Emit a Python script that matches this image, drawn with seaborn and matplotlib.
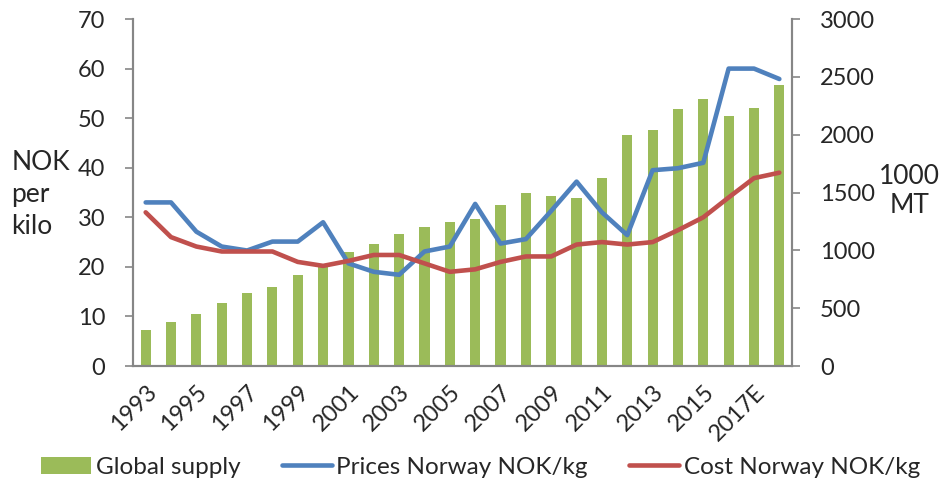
import numpy as np
import pandas as pd
import matplotlib
matplotlib.use("Agg")
import matplotlib.pyplot as plt
import seaborn as sns
from matplotlib.patches import Patch
from matplotlib.lines import Line2D

years = ["1993", "1994", "1995", "1996", "1997", "1998", "1999", "2000", "2001", "2002",
         "2003", "2004", "2005", "2006", "2007", "2008", "2009", "2010", "2011", "2012",
         "2013", "2014", "2015", "2016", "2017E", "2018E"]
global_supply = [311, 383, 449, 545, 628, 680, 786, 873, 983, 1054, 1141, 1201, 1247,
                 1270, 1394, 1492, 1472, 1452, 1628, 1994, 2040, 2224, 2308, 2161, 2233, 2429]
prices = [33.0, 33.0, 27.1, 24.1, 23.3, 25.1, 25.1, 29.0, 20.7, 19.0, 18.4, 23.1, 24.1,
          32.7, 24.7, 25.6, 31.3, 37.2, 31.0, 26.4, 39.5, 39.9, 41.0, 60.0, 60.0, 57.9]
cost = [31.0, 26.0, 24.1, 23.1, 23.1, 23.1, 21.0, 20.2, 21.2, 22.4, 22.4, 20.7, 19.0,
        19.5, 21.0, 22.1, 22.1, 24.5, 25.0, 24.5, 25.0, 27.4, 30.0, 34.0, 37.9, 39.0]
left_ticks = [0, 10, 20, 30, 40, 50, 60, 70]
right_ticks = [0, 500, 1000, 1500, 2000, 2500, 3000]

GREEN = "#9BBB59"
BLUE = "#4F81BD"
RED = "#C0504D"
GRAY = "#868686"

sns.set_style("white")
plt.rcParams["font.family"] = ["Lato", "DejaVu Sans"]

df = pd.DataFrame({"year": years, "supply": global_supply,
                   "prices": prices, "cost": cost, "idx": np.arange(len(years))})

fig = plt.figure(figsize=(9.5, 4.84), dpi=100)
ax = fig.add_axes([0.14, 0.2438, 0.8337 - 0.14, 0.9607 - 0.2438])
ax2 = ax.twinx()

sns.barplot(data=df, x="year", y="supply", color=GREEN, width=0.4, ax=ax,
            saturation=1, edgecolor="none")
ax.set_ylim(0, 3000)
ax.set_xlim(-0.5, len(years) - 0.5)
ax.set_ylabel("")
ax.set_xlabel("")

sns.lineplot(data=df, x="idx", y="prices", color=BLUE, lw=3.3, ax=ax2,
             solid_capstyle="round")
sns.lineplot(data=df, x="idx", y="cost", color=RED, lw=3.3, ax=ax2,
             solid_capstyle="round")
ax2.set_ylim(0, 70)
ax2.set_ylabel("")
ax2.set_xlabel("")
ax2.set_xlim(-0.5, len(years) - 0.5)

# swap sides: bars (thousand MT) on right axis, prices on left axis
ax.yaxis.tick_right()
ax.set_yticks(right_ticks)
ax.set_yticklabels([str(t) for t in right_ticks], fontsize=17)
ax2.yaxis.tick_left()
ax2.set_yticks(left_ticks)
ax2.set_yticklabels([str(t) for t in left_ticks], fontsize=17)

# x ticks: boundaries as minor ticks, labels at every other center
ax.set_xticks(np.arange(0, len(years), 2))
ax.set_xticklabels(years[::2], rotation=45, ha="right", rotation_mode="anchor", fontsize=17)
ax.set_xticks(np.arange(-0.5, len(years) + 0.5, 1), minor=True)
ax.tick_params(axis="x", which="major", length=0, pad=11)
ax.tick_params(axis="x", which="minor", length=6, color=GRAY, width=1.2, direction="out")
ax.tick_params(axis="y", which="both", length=6, color=GRAY, width=1.2, direction="out", pad=14,
               left=False, labelleft=False, right=True, labelright=True)
ax2.tick_params(axis="y", which="both", length=6, color=GRAY, width=1.2, direction="out", pad=14,
                right=False, labelright=False, left=True, labelleft=True)
ax2.tick_params(axis="x", length=0, labelbottom=False)

for a in (ax, ax2):
    a.spines["top"].set_visible(False)
    for s in ("left", "right", "bottom"):
        a.spines[s].set_color(GRAY)
        a.spines[s].set_linewidth(1.5)

fig.text(0.012, 0.598, "NOK\nper\nkilo", fontsize=19, ha="left", va="center", linespacing=1.35)
fig.text(0.957, 0.605, "1000\nMT", fontsize=19, ha="center", va="center", linespacing=1.2)

handles = [Patch(facecolor=GREEN, edgecolor="none"),
           Line2D([0], [0], color=BLUE, lw=3.3),
           Line2D([0], [0], color=RED, lw=3.3)]
labels = ["Global supply", "Prices Norway NOK/kg", "Cost Norway NOK/kg"]
fig.legend(handles, labels, loc="center", bbox_to_anchor=(0.506, 0.035), ncol=3,
           frameon=False, fontsize=17.5, handlelength=2.05, handletextpad=0.2,
           columnspacing=1.7)

fig.savefig("out.png", dpi=100)
